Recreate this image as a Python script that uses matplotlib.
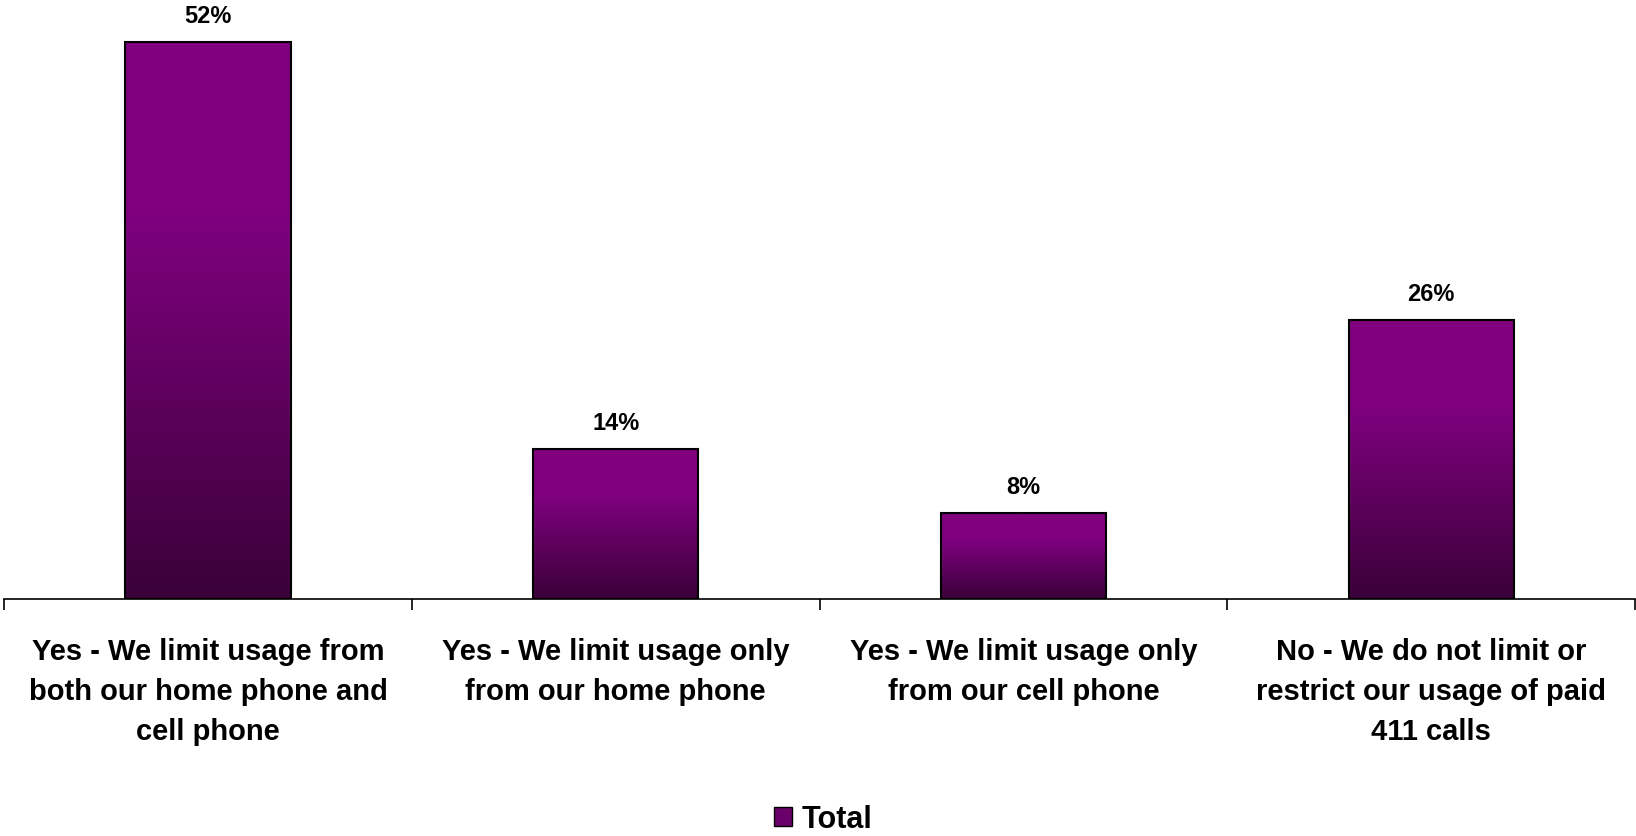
import matplotlib.pyplot as plt
import numpy as np
from matplotlib.colors import LinearSegmentedColormap
from matplotlib.patches import Patch

plt.rcParams['font.family'] = ['Liberation Sans', 'DejaVu Sans']

# datos
categorias = [
    "Yes - We limit usage from\nboth our home phone and\ncell phone",
    "Yes - We limit usage only\nfrom our home phone",
    "Yes - We limit usage only\nfrom our cell phone",
    "No - We do not limit or\nrestrict our usage of paid\n411 calls",
]
valores = [52, 14, 8, 26]
serie = "Total"

# degradado morado (abajo oscuro -> arriba morado)
cmap = LinearSegmentedColormap.from_list(
    "morado", [(0, "#3a0038"), (0.7, "#800080"), (1, "#800080")])

fig = plt.figure(figsize=(16.36, 8.37), dpi=100)
ax = fig.add_axes([0.0025, 0.283, 0.997, 0.717])

x = np.arange(len(valores))
ancho = 0.405
bars = ax.bar(x, valores, width=ancho, color="none", edgecolor="black",
              linewidth=1.5, zorder=3)

grad = np.linspace(0, 1, 256).reshape(-1, 1)
for b in bars:
    x0, y0 = b.get_x(), b.get_y()
    w, h = b.get_width(), b.get_height()
    im = ax.imshow(grad, cmap=cmap, origin="lower", aspect="auto",
                   extent=[x0, x0 + w, y0, y0 + h], zorder=2)
    im.set_clip_path(b)
    ax.text(x0 + w / 2, h + 2.5, f"{int(h)}%", ha="center", va="center",
            fontsize=17, fontweight="bold")

ax.set_xlim(-0.5, len(valores) - 0.5)
ax.set_ylim(0, 56)

for s in ["top", "right", "left"]:
    ax.spines[s].set_visible(False)
ax.spines["bottom"].set_linewidth(1.2)
ax.set_yticks([])

ax.set_xticks(x)
ax.set_xticklabels(categorias, fontsize=21, fontweight="bold", linespacing=1.56)
ax.tick_params(axis="x", which="major", length=0, pad=27)
ax.set_xticks(np.arange(-0.5, len(valores)), minor=True)
ax.tick_params(axis="x", which="minor", length=8, width=1.2, direction="out")

fig.legend(handles=[Patch(facecolor="#6a006a", edgecolor="black", label=serie)],
           loc="center", bbox_to_anchor=(0.503, 1 - 820 / 837), frameon=False,
           prop={"size": 22, "weight": "bold"}, handlelength=0.6,
           handleheight=0.6, handletextpad=0.3, borderpad=0.1)

fig.savefig("out.png", dpi=100)
